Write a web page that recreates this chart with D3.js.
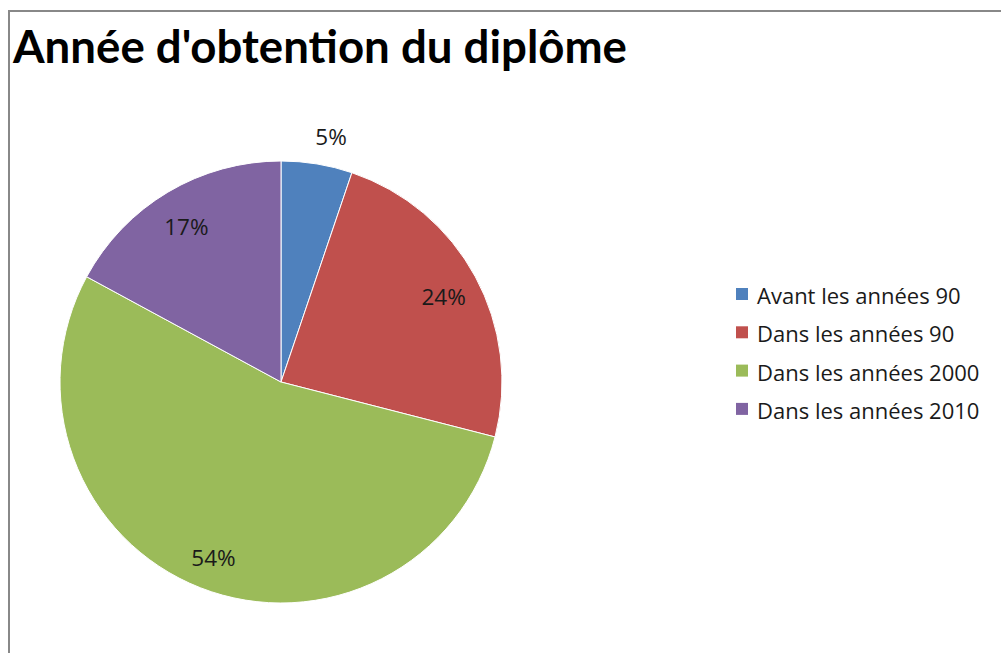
<!DOCTYPE html>
<html><head><meta charset="utf-8">
<script src="https://cdn.jsdelivr.net/npm/d3@7"></script>
<style>html,body{margin:0;padding:0;background:#fff;}svg{display:block;}</style>
</head><body>
<svg id="c" width="1001" height="653"></svg>
<script>
const title = "Année d'obtention du diplôme";
const categories = ["Avant les années 90", "Dans les années 90", "Dans les années 2000", "Dans les années 2010"];
const values = [5.2, 23.8, 53.9, 17.1];
const colors = ["#4F81BD", "#C0504D", "#9BBB59", "#8064A2"];

const svg = d3.select("#c");
const W = 1001, H = 653;
svg.append("rect").attr("x", 9).attr("y", 11).attr("width", W + 20).attr("height", H + 20)
  .attr("fill", "#fff").attr("stroke", "#888").attr("stroke-width", 2);

svg.append("text").attr("x", 13).attr("y", 63).text(title)
  .attr("font-family", "Lato, 'Open Sans', sans-serif").attr("font-weight", "bold")
  .attr("font-size", 45.6).attr("fill", "#000");

const cx = 281, cy = 382, R = 221;
const total = d3.sum(values);
const pie = d3.pie().sort(null).value(d => d)(values);
const arc = d3.arc().innerRadius(0).outerRadius(R);
const g = svg.append("g").attr("transform", `translate(${cx},${cy})`);
g.selectAll("path").data(pie).join("path")
  .attr("d", arc).attr("fill", (d, i) => colors[i])
  .attr("stroke", "#fff").attr("stroke-width", 1);

const fmt = d => Math.round(d / total * 100) + "%";
const labelArcIn = d3.arc().innerRadius(185).outerRadius(185);
const labelArcOut = d3.arc().innerRadius(R + 27).outerRadius(R + 27);
const isSmall = d => (d.endAngle - d.startAngle) < 0.5;
g.selectAll("text.lab").data(pie).join("text").attr("class", "lab")
  .attr("transform", d => {
    const p = (isSmall(d) ? labelArcOut : labelArcIn).centroid(d);
    return `translate(${p[0]},${p[1]})`;
  })
  .attr("text-anchor", d => isSmall(d) ? "start" : "middle")
  .attr("dx", d => isSmall(d) ? -6 : 0)
  .attr("dy", d => isSmall(d) ? -1 : 3)
  .attr("dominant-baseline", "central")
  .attr("font-family", "'Open Sans', sans-serif").attr("font-size", 22.5).attr("fill", "#1a1a1a")
  .text(d => fmt(d.data));

const lg = svg.append("g").attr("transform", "translate(736,294)");
const rows = lg.selectAll("g").data(categories).join("g")
  .attr("transform", (d, i) => `translate(0,${i * 38.3})`);
rows.append("rect").attr("x", 0).attr("y", -6).attr("width", 12).attr("height", 12)
  .attr("fill", (d, i) => colors[i]);
rows.append("text").attr("x", 21).attr("y", 1).attr("dominant-baseline", "central")
  .attr("font-family", "'Open Sans', sans-serif").attr("font-size", 22).attr("fill", "#1a1a1a")
  .text(d => d);
</script>
</body></html>
